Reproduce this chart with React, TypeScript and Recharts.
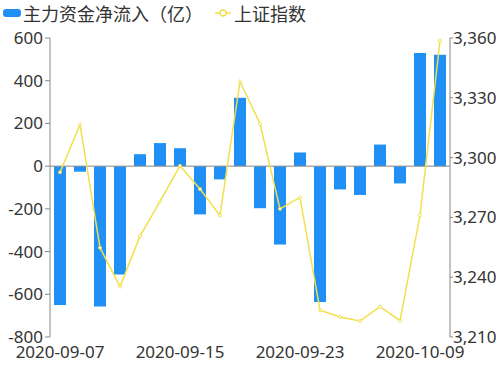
import React from 'react';
import { ComposedChart, Bar, Line, XAxis, YAxis, ReferenceLine } from 'recharts';

const dates = ['2020-09-07','2020-09-08','2020-09-09','2020-09-10','2020-09-11','2020-09-14','2020-09-15','2020-09-16','2020-09-17','2020-09-18','2020-09-21','2020-09-22','2020-09-23','2020-09-24','2020-09-25','2020-09-28','2020-09-29','2020-09-30','2020-10-09','2020-10-12'];
const netInflow = [-650, -26, -657, -507, 56, 108, 84, -226, -62, 320, -197, -367, 64, -636, -109, -135, 101, -81, 530, 521];
const shIndex = [3292.6, 3316.5, 3254.8, 3235.3, 3260.6, 3278, 3295.9, 3284.2, 3271, 3338.2, 3317, 3274.3, 3280, 3223.5, 3220, 3218, 3225.2, 3218.2, 3271, 3358.5];
const leftTicks = [-800, -600, -400, -200, 0, 200, 400, 600];
const rightTicks = [3210, 3240, 3270, 3300, 3330, 3360];
const seriesNames = ['主力资金净流入（亿）', '上证指数'];

const data = dates.map((d, i) => ({ date: d, inflow: netInflow[i], index: shIndex[i] }));

const BLUE = '#2190f5';
const YELLOW = '#f2e04b';
const FONT = '"Noto Sans", "Noto Sans CJK SC", sans-serif';

export default function App() {
  return (
    <div style={{ position: 'absolute', left: 0, top: 0, width: 499, height: 375 }}>
      <ComposedChart width={499} height={375} data={data} margin={{ top: 38, right: 0, bottom: 0, left: 0 }} barCategoryGap="20%">
        <XAxis dataKey="date" interval={5} axisLine={false} tickLine={false} tickSize={0} tickMargin={9} height={38}
          tick={{ fill: '#333', fontSize: 17, fontFamily: FONT }} />
        <YAxis yAxisId="left" orientation="left" width={50} domain={[-800, 600]} ticks={leftTicks} interval={0}
          axisLine={{ stroke: '#888' }} tickLine={{ stroke: '#888' }} tickSize={5} tickMargin={2}
          tick={{ fill: '#333', fontSize: 17, fontFamily: FONT }} />
        <YAxis yAxisId="right" orientation="right" width={49} domain={[3210, 3360]} ticks={rightTicks} interval={0}
          axisLine={{ stroke: '#888' }} tickLine={{ stroke: '#888' }} tickSize={3} tickMargin={0}
          tickFormatter={(v: number) => v.toLocaleString('en-US')}
          tick={{ fill: '#333', fontSize: 17, fontFamily: FONT }} />
        <ReferenceLine yAxisId="left" y={0} stroke="#888" />
        <Bar yAxisId="left" dataKey="inflow" fill={BLUE} isAnimationActive={false} />
        <Line yAxisId="right" dataKey="index" type="linear" stroke={YELLOW} strokeWidth={1.5}
          dot={{ r: 1.5, fill: '#fff', stroke: YELLOW, strokeWidth: 1 }} isAnimationActive={false} />
      </ComposedChart>
      <div style={{ position: 'absolute', left: 0, top: 0, display: 'flex', alignItems: 'center', fontFamily: '"Noto Sans CJK SC", sans-serif', fontSize: 18, color: '#333', lineHeight: '26px', whiteSpace: 'nowrap' }}>
        <span style={{ display: 'inline-block', width: 18, height: 8, background: BLUE, borderRadius: 3, marginLeft: 3, marginRight: 2 }} />
        <span>{seriesNames[0]}</span>
        <svg width={16} height={10} style={{ marginLeft: 12, marginRight: 3 }}>
          <line x1={0} y1={5} x2={16} y2={5} stroke={YELLOW} strokeWidth={1.5} />
          <circle cx={8} cy={5} r={3} fill="#fff" stroke={YELLOW} strokeWidth={1.5} />
        </svg>
        <span>{seriesNames[1]}</span>
      </div>
    </div>
  );
}
